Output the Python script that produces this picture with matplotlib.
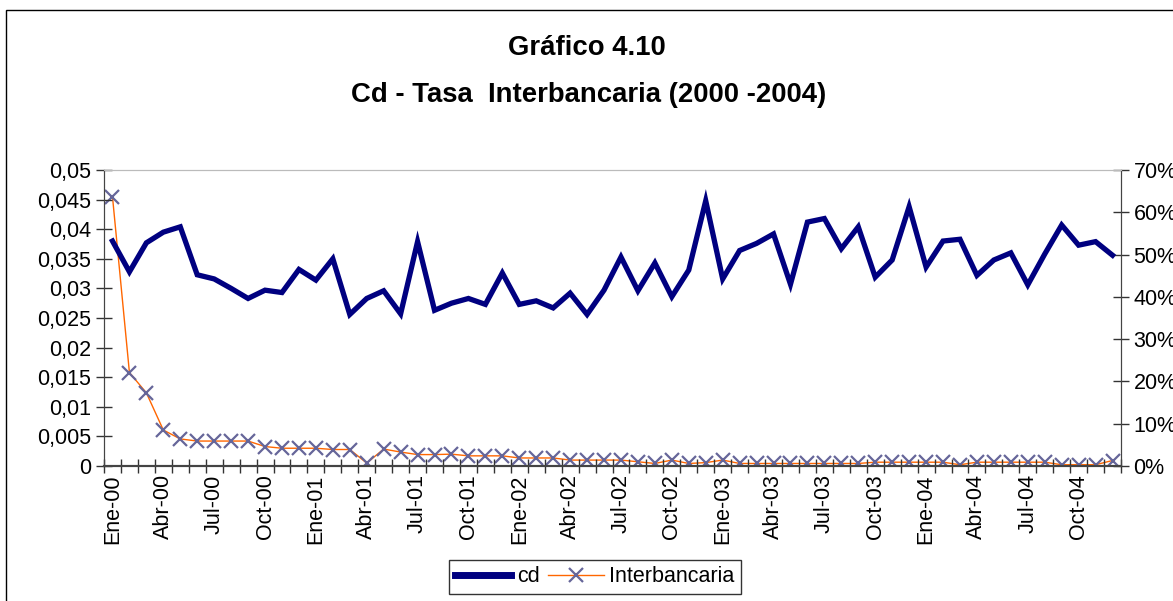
import matplotlib
matplotlib.use("Agg")
import matplotlib.pyplot as plt
from matplotlib.patches import Rectangle
from matplotlib.lines import Line2D
import numpy as np

plt.rcParams['font.family'] = ['Liberation Sans', 'DejaVu Sans']

month_abbr = ["Ene", "Feb", "Mar", "Abr", "May", "Jun", "Jul", "Ago", "Sep", "Oct", "Nov", "Dic"]
years = ["00", "01", "02", "03", "04"]
categories = [f"{m}-{y}" for y in years for m in month_abbr]

cd = [0.0380, 0.0328, 0.0377, 0.0395, 0.0404, 0.0323, 0.0316, 0.0300, 0.0283, 0.0297,
      0.0293, 0.0332, 0.0314, 0.0350, 0.0256, 0.0283, 0.0296, 0.0257, 0.0379, 0.0263,
      0.0275, 0.0283, 0.0273, 0.0326, 0.0273, 0.0279, 0.0267, 0.0292, 0.0256, 0.0297,
      0.0353, 0.0296, 0.0343, 0.0286, 0.0331, 0.0448, 0.0316, 0.0364, 0.0376, 0.0392,
      0.0307, 0.0412, 0.0418, 0.0367, 0.0404, 0.0319, 0.0348, 0.0438, 0.0336, 0.0380,
      0.0383, 0.0322, 0.0348, 0.0360, 0.0306, 0.0358, 0.0407, 0.0373, 0.0379, 0.0356]

interbancaria = [63.7, 22.1, 17.3, 8.5, 6.4, 5.9, 5.9, 5.9, 5.9, 4.6,
                 4.2, 4.2, 4.2, 3.9, 3.9, 0.7, 4.0, 3.3, 2.7, 2.7,
                 2.8, 2.4, 2.4, 2.4, 1.9, 1.9, 1.9, 1.4, 1.4, 1.4,
                 1.4, 1.0, 0.6, 1.4, 0.6, 0.8, 1.4, 0.6, 0.6, 0.6,
                 0.6, 0.6, 0.6, 0.6, 0.6, 0.9, 0.9, 0.9, 0.9, 0.9,
                 0.3, 0.9, 0.9, 0.9, 0.9, 0.9, 0.3, 0.3, 0.3, 1.3]

left_ticks = [0, 0.005, 0.01, 0.015, 0.02, 0.025, 0.03, 0.035, 0.04, 0.045, 0.05]
left_labels = ["0", "0,005", "0,01", "0,015", "0,02", "0,025", "0,03", "0,035", "0,04", "0,045", "0,05"]
right_ticks = [0, 10, 20, 30, 40, 50, 60, 70]
right_labels = ["0%", "10%", "20%", "30%", "40%", "50%", "60%", "70%"]

W, H = 1173, 601
fig = plt.figure(figsize=(W / 100, H / 100), dpi=100)

# outer chart frame
fig.patches.append(Rectangle((6 / W, -0.2), 1.2, (H - 10) / H + 0.2, transform=fig.transFigure,
                             fill=False, edgecolor='black', linewidth=1.0))

ax = fig.add_axes([104 / W, (H - 466) / H, (1121 - 104) / W, (466 - 170) / H])
ax2 = ax.twinx()

n = len(categories)
x = np.arange(n) + 0.5

ax.plot(x, cd, color='#000080', linewidth=3.8, solid_joinstyle='miter', zorder=3)
ax2.plot(x, interbancaria, color='#FF6600', linewidth=1.0, marker='x', markersize=10,
         markeredgecolor='#666699', markeredgewidth=1.6, zorder=3)

ax.set_zorder(ax2.get_zorder() + 1)
ax.patch.set_visible(False)

ax.set_xlim(0, n)
ax.set_ylim(0, 0.05)
ax2.set_ylim(0, 70)

fs = 15.5
ax.set_yticks(left_ticks)
ax.set_yticklabels(left_labels, fontsize=fs)
ax2.set_yticks(right_ticks)
ax2.set_yticklabels(right_labels, fontsize=fs)

ax.set_xticks(np.arange(n + 1))
ax.set_xticklabels([])
ax.set_xticks(x[::3], minor=True)
ax.set_xticklabels(categories[::3], minor=True, rotation=90, fontsize=fs)
ax.tick_params(axis='x', which='major', direction='inout', length=10, width=1, color='#333333')
ax.tick_params(axis='x', which='minor', length=0, pad=6)
ax.tick_params(axis='y', direction='inout', length=12, width=1, color='#333333', pad=3)
ax2.tick_params(axis='y', direction='inout', length=12, width=1, color='#333333', pad=3)

for a in (ax, ax2):
    a.spines['top'].set_color('#BBBBBB')
    a.spines['left'].set_color('#444444')
    a.spines['right'].set_color('#444444')
    a.spines['bottom'].set_color('#444444')
    a.spines['bottom'].set_linewidth(1.5)

fig.text(587 / W, 1 - 48 / H, "Gráfico 4.10", ha='center', va='center', fontsize=19.8, fontweight='bold')
fig.text(589 / W, 1 - 95 / H, "Cd - Tasa  Interbancaria (2000 -2004)", ha='center', va='center',
         fontsize=19.8, fontweight='bold')

handles = [Line2D([], [], color='#000080', linewidth=5),
           Line2D([], [], color='#FF6600', linewidth=1.0, marker='x', markersize=10,
                  markeredgecolor='#666699', markeredgewidth=1.6)]
leg = fig.legend(handles, ['cd', 'Interbancaria'], loc='center', bbox_to_anchor=(595 / W, 1 - 577 / H),
                 ncol=2, fontsize=fs, frameon=True, fancybox=False, handlelength=2.6,
                 handletextpad=0.25, columnspacing=0.4, borderpad=0.3, borderaxespad=0.2)
leg.get_frame().set_edgecolor('black')
leg.get_frame().set_linewidth(1.0)

fig.savefig("out.png", dpi=100)
